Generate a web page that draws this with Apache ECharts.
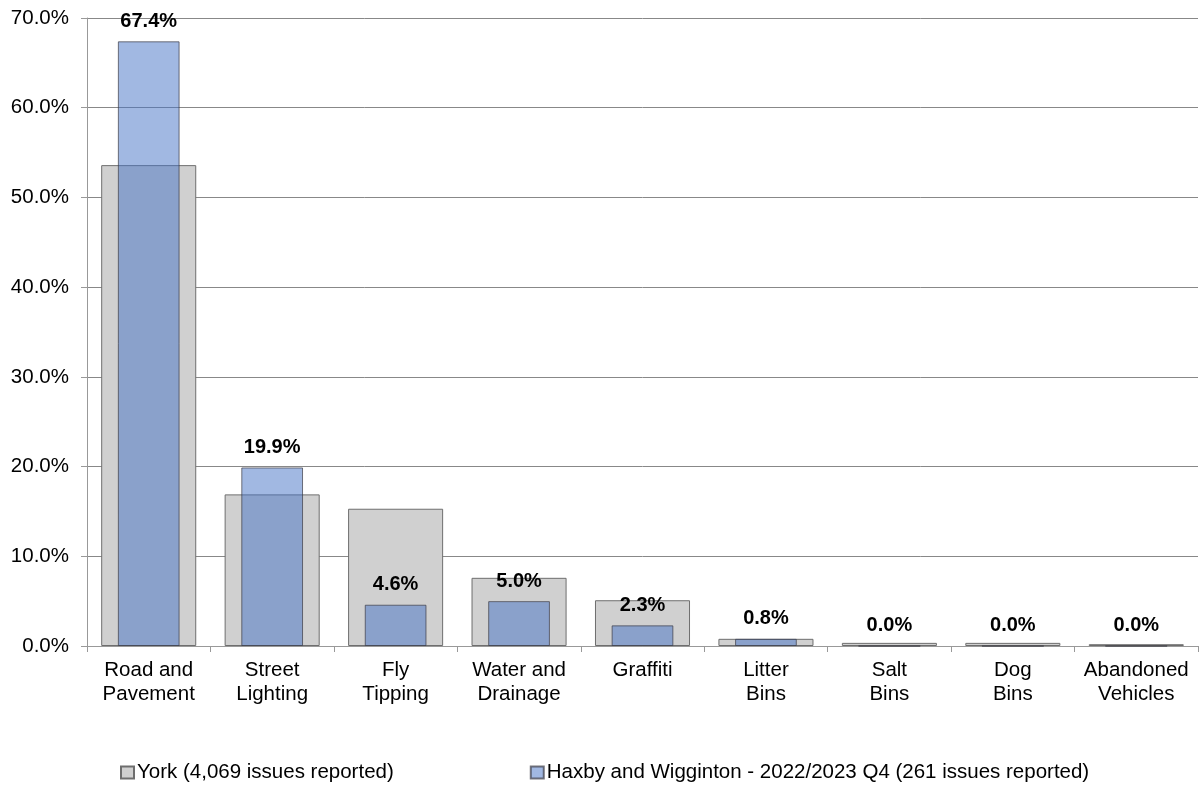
<!DOCTYPE html>
<html>
<head>
<meta charset="utf-8">
<script src="https://cdn.jsdelivr.net/npm/echarts@6/dist/echarts.min.js"></script>
<style>
  html, body { margin: 0; padding: 0; background: #fff; }
  #chart { width: 1202px; height: 785px; }
</style>
</head>
<body>
<div id="chart"></div>
<script>
// categories and values
const categories = ['Road and\nPavement', 'Street\nLighting', 'Fly\nTipping', 'Water and\nDrainage', 'Graffiti', 'Litter\nBins', 'Salt\nBins', 'Dog\nBins', 'Abandoned\nVehicles'];
const yorkValues = [53.6, 16.9, 15.3, 7.6, 5.1, 0.8, 0.35, 0.35, 0.2];
const haxbyValues = [67.4, 19.9, 4.6, 5.0, 2.3, 0.8, 0.0, 0.0, 0.0];
const yorkName = 'York (4,069 issues reported)';
const haxbyName = 'Haxby and Wigginton - 2022/2023 Q4 (261 issues reported)';

const chart = echarts.init(document.getElementById('chart'));

const font = 'Liberation Sans, Arial, sans-serif';

chart.setOption({
  animation: false,
  grid: { left: 87, right: 4, top: 18, bottom: 139, containLabel: false },
  legend: {
    top: 757,
    left: 115,
    itemWidth: 13,
    itemHeight: 12,
    itemGap: 136,
    icon: 'rect',
    textStyle: { fontFamily: font, fontSize: 20.5, color: '#000', padding: [0, 0, 0, -2] },
    data: [yorkName, haxbyName]
  },
  xAxis: [
    {
      type: 'category',
      data: categories,
      axisLine: { lineStyle: { color: '#999', width: 1 } },
      axisTick: { show: true, length: 6, lineStyle: { color: '#999' } },
      axisLabel: { fontFamily: font, fontSize: 20.5, color: '#000', margin: 12, lineHeight: 24, interval: 0 }
    },
    {
      // same categories, only used to centre the narrower bars
      type: 'category',
      data: categories,
      position: 'bottom',
      show: false
    }
  ],
  yAxis: {
    type: 'value',
    min: 0,
    max: 70,
    interval: 10,
    axisLine: { show: true, lineStyle: { color: '#999', width: 1 } },
    axisTick: { show: true, length: 6, lineStyle: { color: '#999' } },
    splitLine: { lineStyle: { color: '#888', width: 1 } },
    axisLabel: {
      fontFamily: font, fontSize: 20.5, color: '#000', margin: 18,
      formatter: v => v.toFixed(1) + '%'
    }
  },
  series: [
    {
      name: yorkName,
      type: 'bar',
      xAxisIndex: 0,
      data: yorkValues,
      barWidth: '77%',
      itemStyle: { color: '#d0d0d0', borderColor: '#6e6e6e', borderWidth: 1 }
    },
    {
      name: haxbyName,
      type: 'bar',
      xAxisIndex: 1,
      data: haxbyValues,
      barWidth: '50%',
      z: 3,
      itemStyle: { color: 'rgba(67,113,197,0.5)', borderColor: 'rgba(60,60,70,0.7)', borderWidth: 1 },
      label: {
        show: true,
        position: 'top',
        distance: 10,
        fontFamily: font,
        fontSize: 20,
        fontWeight: 'bold',
        color: '#000',
        formatter: p => p.value.toFixed(1) + '%'
      }
    }
  ]
});
</script>
</body>
</html>
